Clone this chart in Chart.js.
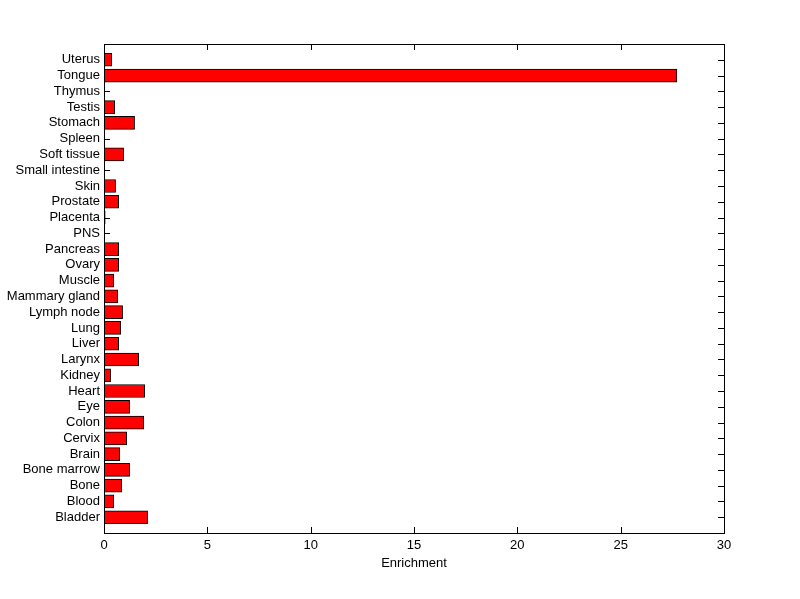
<!DOCTYPE html>
<html>
<head>
<meta charset="UTF-8">
<title>Enrichment by tissue</title>
<script src="https://cdn.jsdelivr.net/npm/chart.js"></script>
<style>
  body { margin: 0; background: #fff; }
</style>
</head>
<body>
<canvas id="chart" width="800" height="599"></canvas>
<script>
// bottom to top, as in the figure
const tissues = ['Bladder', 'Blood', 'Bone', 'Bone marrow', 'Brain', 'Cervix', 'Colon', 'Eye',
  'Heart', 'Kidney', 'Larynx', 'Liver', 'Lung', 'Lymph node', 'Mammary gland', 'Muscle',
  'Ovary', 'Pancreas', 'PNS', 'Placenta', 'Prostate', 'Skin', 'Small intestine', 'Soft tissue',
  'Spleen', 'Stomach', 'Testis', 'Thymus', 'Tongue', 'Uterus'];
const enrichment = [2.11, 0.47, 0.86, 1.24, 0.76, 1.10, 1.92, 1.24,
  1.97, 0.32, 1.68, 0.71, 0.81, 0.90, 0.66, 0.47,
  0.71, 0.71, 0, 0.06, 0.71, 0.56, 0, 0.95,
  0, 1.48, 0.52, 0, 27.72, 0.37];
const xTicks = [0, 5, 10, 15, 20, 25, 30];

const font = { family: 'Arial, "Liberation Sans", sans-serif', size: 13 };

// MATLAB style: tick marks pointing inwards on all four sides (under the bars), box on top
const insideTicks = {
  id: 'insideTicks',
  beforeDatasetsDraw(chart) {
    const { ctx, chartArea: a, scales } = chart;
    const len = 6;
    ctx.save();
    ctx.strokeStyle = '#000';
    ctx.lineWidth = 1;
    ctx.beginPath();
    xTicks.forEach(v => {
      const px = Math.round(scales.x.getPixelForValue(v)) + 0.5;
      ctx.moveTo(px, a.bottom); ctx.lineTo(px, a.bottom - len);
      ctx.moveTo(px, a.top); ctx.lineTo(px, a.top + len);
    });
    tissues.forEach((t, i) => {
      const py = Math.round(scales.y.getPixelForValue(i + 1)) + 0.5;
      ctx.moveTo(a.left, py); ctx.lineTo(a.left + len, py);
      ctx.moveTo(a.right, py); ctx.lineTo(a.right - len, py);
    });
    ctx.stroke();
    ctx.restore();
  },
  afterDatasetsDraw(chart) {
    const { ctx, chartArea: a } = chart;
    ctx.save();
    ctx.strokeStyle = '#000';
    ctx.lineWidth = 1;
    ctx.strokeRect(Math.round(a.left) + 0.5, Math.round(a.top) + 0.5,
      Math.round(a.right - a.left), Math.round(a.bottom - a.top));
    ctx.restore();
  }
};

new Chart(document.getElementById('chart'), {
  type: 'bar',
  data: {
    datasets: [{
      data: tissues.map((t, i) => ({ x: enrichment[i], y: i + 1 })),
      backgroundColor: '#ff0000',
      borderColor: '#000',
      borderWidth: 1,
      borderSkipped: false,
      barThickness: 13
    }]
  },
  options: {
    indexAxis: 'y',
    responsive: false,
    animation: false,
    devicePixelRatio: 1,
    layout: { padding: { top: 44, right: 76, left: 0, bottom: 0 } },
    plugins: { legend: { display: false }, tooltip: { enabled: false } },
    scales: {
      x: {
        type: 'linear',
        min: 0, max: 30,
        afterBuildTicks: s => { s.ticks = xTicks.map(v => ({ value: v })); },
        afterFit: s => { s.height = 66; },
        grid: { display: false, drawTicks: false, tickLength: 0 },
        border: { display: false },
        ticks: { color: '#000', font, padding: 5, maxRotation: 0 },
        title: { display: true, text: 'Enrichment', color: '#000', font, padding: { top: 0, bottom: 28 } }
      },
      y: {
        type: 'linear',
        offset: false,
        min: 0, max: 31,
        afterBuildTicks: s => { s.ticks = tissues.map((t, i) => ({ value: i + 1 })); },
        afterFit: s => { s.width = 104; },
        grid: { display: false, drawTicks: false, tickLength: 0 },
        border: { display: false },
        ticks: { color: '#000', font, padding: 4, autoSkip: false,
          callback: v => tissues[v - 1] }
      }
    }
  },
  plugins: [insideTicks]
});
</script>
</body>
</html>
